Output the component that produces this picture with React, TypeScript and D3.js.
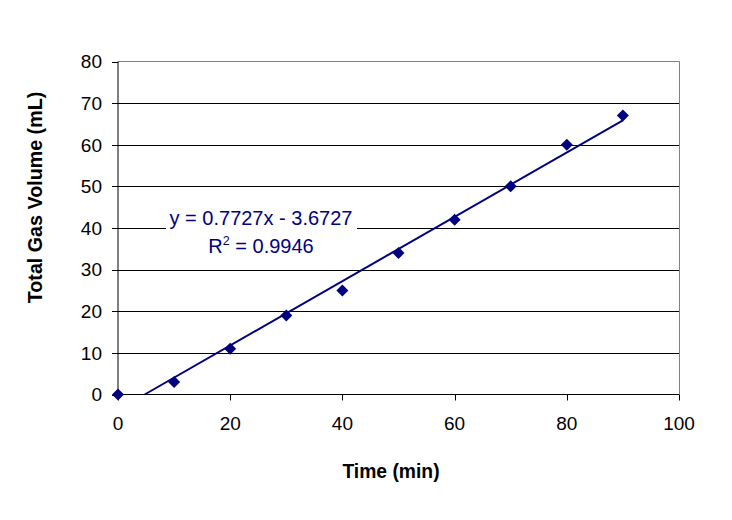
import * as d3 from "d3";

const times = [0, 10, 20, 30, 40, 50, 60, 70, 80, 90];
const volumes = [0, 3, 11, 19, 25, 34, 42, 50, 60, 67];
const xTicks = [0, 20, 40, 60, 80, 100];
const yTicks = [0, 10, 20, 30, 40, 50, 60, 70, 80];
const slope = 0.7727;
const intercept = -3.6727;
const eqText = "y = 0.7727x - 3.6727";
const r2Text = "0.9946";

const W = 732;
const H = 520;
const left = 118;
const right = 679;
const top = 61.5;
const bottom = 394.5;
const navy = "#000080";
const font = "'Liberation Sans', Arial, sans-serif";

export default function App() {
  const x = d3.scaleLinear().domain([0, 100]).range([left, right]);
  const y = d3.scaleLinear().domain([0, 80]).range([bottom, top]);

  // trendline, clipped at the y=0 axis like Excel does
  const xStart = Math.max(0, -intercept / slope);
  const xEnd = d3.max(times) as number;
  const trend = d3.line()(
    [xStart, xEnd].map((t) => [x(t), y(slope * t + intercept)] as [number, number])
  );

  // square diamond marker (Excel style)
  const diamond = d3.symbol(d3.symbolSquare, 72)();

  return (
    <svg
      width={W}
      height={H}
      style={{ position: "absolute", left: 0, top: 0, background: "#fff" }}
      fontFamily={font}
    >
      {/* gridlines */}
      {yTicks.slice(1, -1).map((t) => (
        <line key={t} x1={left} x2={right} y1={Math.round(y(t)) + 0.5} y2={Math.round(y(t)) + 0.5} stroke="#000" />
      ))}
      {/* plot border */}
      <line x1={left} x2={right + 0.5} y1={top} y2={top} stroke="#808080" />
      <line x1={right + 0.5} x2={right + 0.5} y1={top} y2={bottom} stroke="#808080" />

      {/* equation label */}
      <rect x={166} y={206} width={191} height={52} fill="#fff" />
      <text x={261} y={225} textAnchor="middle" fontSize={20} fill={navy}>
        {eqText}
      </text>
      <text x={261} y={252.5} textAnchor="middle" fontSize={20} fill={navy}>
        R<tspan dy={-8} fontSize={12.5}>2</tspan>
        <tspan dy={8}>{" = " + r2Text}</tspan>
      </text>

      {/* axes */}
      <line x1={left} x2={right} y1={bottom} y2={bottom} stroke="#000" />
      <line x1={left} x2={left} y1={top} y2={bottom} stroke="#000" />
      {yTicks.map((t) => (
        <g key={t}>
          <line x1={left - 6} x2={left} y1={Math.round(y(t)) + 0.5} y2={Math.round(y(t)) + 0.5} stroke="#000" />
          <text x={102} y={y(t)} dy="0.36em" textAnchor="end" fontSize={19} fill="#000">
            {t}
          </text>
        </g>
      ))}
      {xTicks.map((t) => (
        <g key={t}>
          <line x1={Math.round(x(t)) + 0.5} x2={Math.round(x(t)) + 0.5} y1={bottom} y2={bottom + 6} stroke="#000" />
          <text x={x(t)} y={430} textAnchor="middle" fontSize={19} fill="#000">
            {t}
          </text>
        </g>
      ))}

      {/* trendline */}
      <path d={trend || undefined} fill="none" stroke={navy} strokeWidth={2} />

      {/* points */}
      {times.map((t, i) => (
        <path
          key={t}
          d={diamond || undefined}
          transform={`translate(${x(t)},${y(volumes[i])}) rotate(45)`}
          fill={navy}
        />
      ))}

      {/* axis titles */}
      <text x={391} y={478} textAnchor="middle" fontSize={19.3} fontWeight="bold" fill="#000">
        Time (min)
      </text>
      <text
        transform="translate(42,197.5) rotate(-90)"
        textAnchor="middle"
        fontSize={19.7}
        fontWeight="bold"
        fill="#000"
      >
        Total Gas Volume (mL)
      </text>
    </svg>
  );
}
